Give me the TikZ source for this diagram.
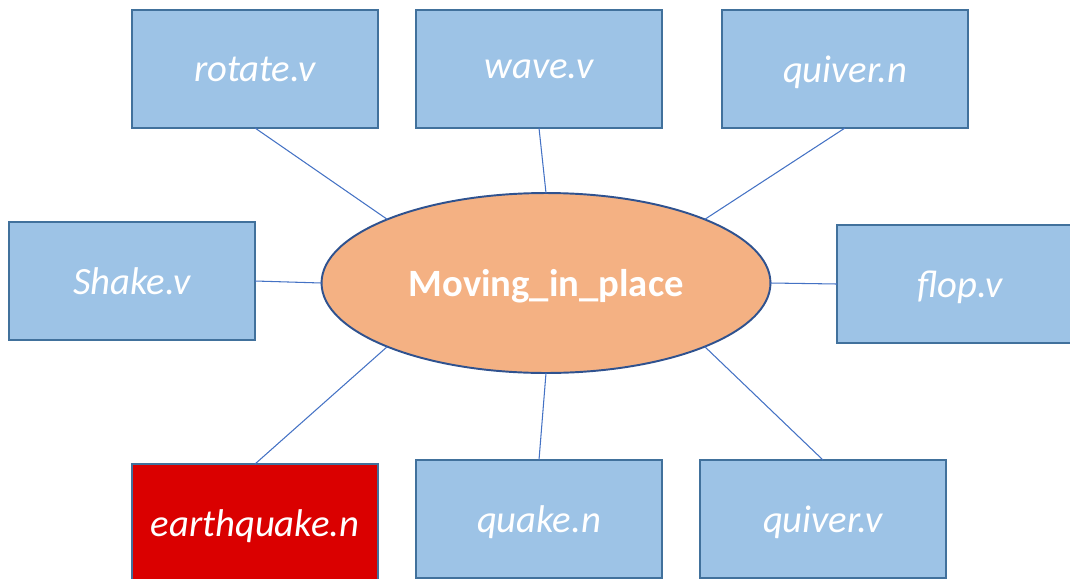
\documentclass[tikz,border=0pt]{standalone}
\usepackage{fontspec}
\setmainfont{Carlito}
\usetikzlibrary{shapes.geometric}
\definecolor{boxfill}{RGB}{157,195,230}
\definecolor{boxline}{RGB}{65,113,156}
\definecolor{ellfill}{RGB}{244,177,131}
\definecolor{ellline}{RGB}{47,82,143}
\definecolor{conn}{RGB}{68,114,196}
\definecolor{redfill}{RGB}{218,0,0}
\tikzset{
  wordbox/.style={draw=boxline, line width=1.1pt, fill=boxfill, minimum width=4.92cm, minimum height=2.36cm, inner sep=0pt, outer sep=0pt, text=white, text depth=0pt, font=\fontsize{22}{26}\selectfont\itshape},
  centre/.style={ellipse, draw=ellline, line width=1.1pt, fill=ellfill, minimum width=8.98cm, minimum height=3.6cm, inner sep=0pt, outer sep=0pt, text=white, text depth=0pt, font=\fontsize{22}{26}\selectfont\bfseries},
  link/.style={draw=conn, line width=0.6pt}
}
\begin{document}
\begin{tikzpicture}[x=0.02cm, y=-0.02cm]
\path[use as bounding box, clip] (0,0) rectangle (1070,578);
\node[wordbox] (rotate) at (255,69) {rotate.v};
\node[wordbox] (wave) at (539,69) {wave.v};
\node[wordbox] (quivern) at (845,69) {quiver.n};
\node[wordbox] (shake) at (132,281) {Shake.v};
\node[wordbox] (flop) at (960,284) {flop.v};
\node[wordbox, fill=redfill] (earthquake) at (255,523) {earthquake.n};
\node[wordbox] (quake) at (539,519) {quake.n};
\node[wordbox] (quiverv) at (823,519) {quiver.v};
\node[centre] (mid) at (546,283) {Moving\_in\_place};
\draw[link] (rotate.south) -- (mid.north west);
\draw[link] (wave.south) -- (mid.north);
\draw[link] (quivern.south) -- (mid.north east);
\draw[link] (shake.east) -- (mid.west);
\draw[link] (flop.west) -- (mid.east);
\draw[link] (earthquake.north) -- (mid.south west);
\draw[link] (quake.north) -- (mid.south);
\draw[link] (quiverv.north) -- (mid.south east);
\end{tikzpicture}
\end{document}
